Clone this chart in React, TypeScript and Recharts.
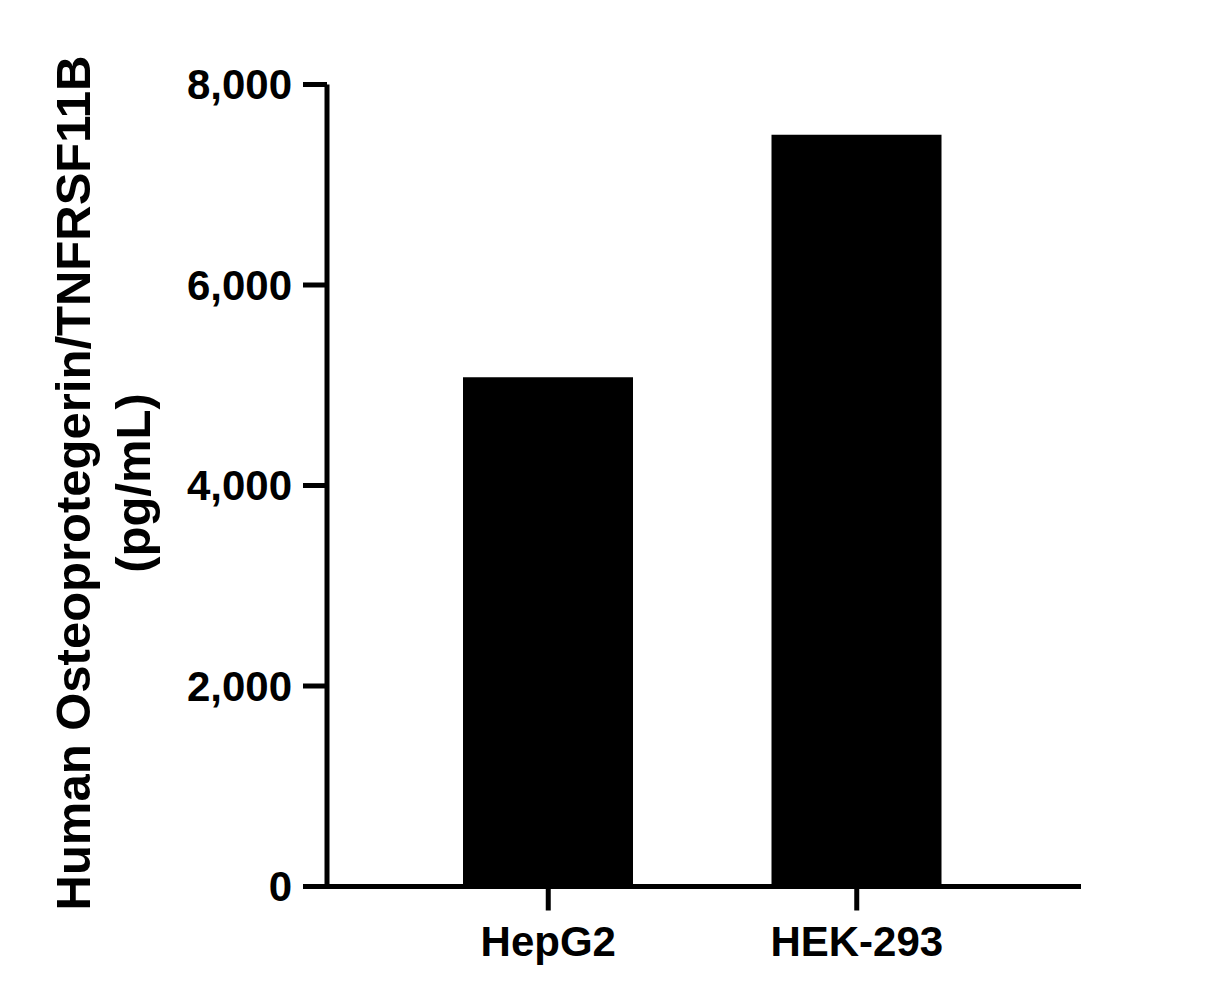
import { BarChart, Bar, XAxis, YAxis } from 'recharts'

const cellLines = ['HepG2', 'HEK-293']
const concentrations = [5080, 7500]
const yTicks = [0, 2000, 4000, 6000, 8000]
const yTitle = ['Human Osteoprotegerin/TNFRSF11B', '(pg/mL)']

const data = cellLines.map((name, i) => ({ name, value: concentrations[i] }))

const FONT = 'Liberation Sans, Arial, sans-serif'

function YTitle() {
  return (
    <g fontFamily={FONT} fontWeight="bold" fontSize={49} fill="#000">
      <text transform="translate(90, 483) rotate(-90)" textAnchor="middle">
        {yTitle[0]}
      </text>
      <text transform="translate(150, 483) rotate(-90)" textAnchor="middle">
        {yTitle[1]}
      </text>
    </g>
  )
}

export default function App() {
  return (
    <div style={{ position: 'absolute', left: 0, top: 0, background: '#fff' }}>
      <BarChart
        width={1213}
        height={1005}
        data={data}
        margin={{ top: 84.5, right: 132, left: 0, bottom: 0 }}
        barSize={170}
      >
        <XAxis
          dataKey="name"
          height={118.5}
          padding={{ left: 67, right: 70 }}
          stroke="#000"
          strokeWidth={5}
          tickSize={24}
          tickMargin={16}
          tick={{ fill: '#000', fontSize: 42, fontWeight: 'bold', fontFamily: FONT }}
          axisLine={{ stroke: '#000', strokeWidth: 5 }}
          tickLine={{ stroke: '#000', strokeWidth: 5 }}
        />
        <YAxis
          width={327}
          domain={[0, 8000]}
          ticks={yTicks}
          tickFormatter={(v: number) => v.toLocaleString('en-US')}
          stroke="#000"
          strokeWidth={5}
          tickSize={24}
          tickMargin={11}
          tick={{ fill: '#000', fontSize: 42, fontWeight: 'bold', fontFamily: FONT }}
          axisLine={{ stroke: '#000', strokeWidth: 5 }}
          tickLine={{ stroke: '#000', strokeWidth: 5 }}
          label={{ content: () => <YTitle /> }}
        />
        <Bar dataKey="value" fill="#000" isAnimationActive={false} />
      </BarChart>
    </div>
  )
}
